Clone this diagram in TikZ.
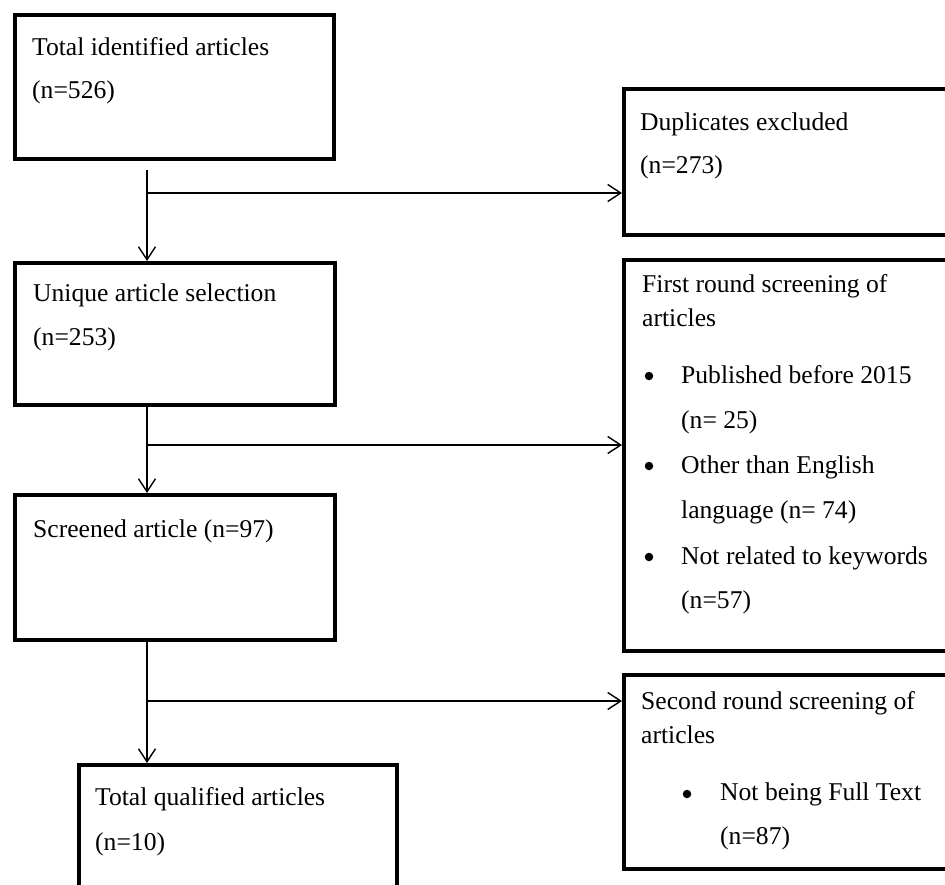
\documentclass[tikz,border=0pt]{standalone}
\usepackage{fontspec}
\setmainfont{Liberation Serif}
\usetikzlibrary{arrows.meta,calc}
\begin{document}
\begin{tikzpicture}[x=1pt,y=-1pt,
  box/.style={draw=black,line width=4pt,anchor=north west,inner sep=0pt},
  txt/.style={anchor=base west,inner sep=0pt,font=\fontsize{25.6}{30}\selectfont},
  dot/.style={circle,fill=black,inner sep=0pt,minimum size=8.5pt},
  conn/.style={draw=black,line width=1.4pt},
  arr/.style={conn,-{Straight Barb[length=13pt,width=17pt,line width=1.4pt]}}]
\useasboundingbox (0,0) rectangle (945,884);
\clip (0,0) rectangle (945,884);
\fill[white] (0,0) rectangle (945,884);
% left boxes
\node[box,minimum width=319pt,minimum height=144pt] (b1) at (13,13) {};
\node[box,minimum width=320pt,minimum height=142pt] (b2) at (13,261) {};
\node[box,minimum width=320pt,minimum height=145pt] (b3) at (13,493) {};
\node[box,minimum width=318pt,minimum height=140pt] (b4) at (77,763) {};
% right boxes
\node[box,minimum width=340pt,minimum height=146pt] (dup) at (622,87) {};
\node[box,minimum width=340pt,minimum height=391pt] (fr) at (622,258) {};
\node[box,minimum width=340pt,minimum height=194pt] (sr) at (622,673) {};
% texts
\node[txt] (t1a) at (32,55) {Total identified articles};
\node[txt] (t1b) at (32,98) {(n=526)};
\node[txt] (t2a) at (33,301) {Unique article selection};
\node[txt] (t2b) at (33,345) {(n=253)};
\node[txt] (t3a) at (33,537) {Screened article (n=97)};
\node[txt] (t4a) at (95,805) {Total qualified articles};
\node[txt] (t4b) at (95,850) {(n=10)};
\node[txt] (tda) at (640,130) {Duplicates excluded};
\node[txt] (tdb) at (640,173) {(n=273)};
\node[txt] (tfa) at (642,292) {First round screening of};
\node[txt] (tfb) at (642,326) {articles};
\node[dot] (bf1) at (649,376) {};
\node[txt] (tf1) at (681,383) {Published before 2015};
\node[txt] (tf2) at (681,428) {(n= 25)};
\node[dot] (bf2) at (649,466) {};
\node[txt] (tf3) at (681,473) {Other than English};
\node[txt] (tf4) at (681,518) {language (n= 74)};
\node[dot] (bf3) at (649,557) {};
\node[txt] (tf5) at (681,564) {Not related to keywords};
\node[txt] (tf6) at (681,608) {(n=57)};
\node[txt] (tsa) at (641,709) {Second round screening of};
\node[txt] (tsb) at (641,743) {articles};
\node[dot] (bs1) at (687,794) {};
\node[txt] (ts1) at (720,800) {Not being Full Text};
\node[txt] (ts2) at (720,844) {(n=87)};
% connectors
\coordinate (s1) at (147,170);
\coordinate (j1) at (147,193);
\coordinate (j2) at (147,445);
\coordinate (j3) at (147,701);
\draw[arr] (s1) -- (s1 |- b2.north);
\draw[arr] (j1) -- (j1 -| dup.west);
\draw[arr] (b2.south -| s1) -- (b3.north -| s1);
\draw[arr] (j2) -- (j2 -| fr.west);
\draw[arr] (b3.south -| s1) -- (b4.north -| s1);
\draw[arr] (j3) -- (j3 -| sr.west);
\end{tikzpicture}
\end{document}
